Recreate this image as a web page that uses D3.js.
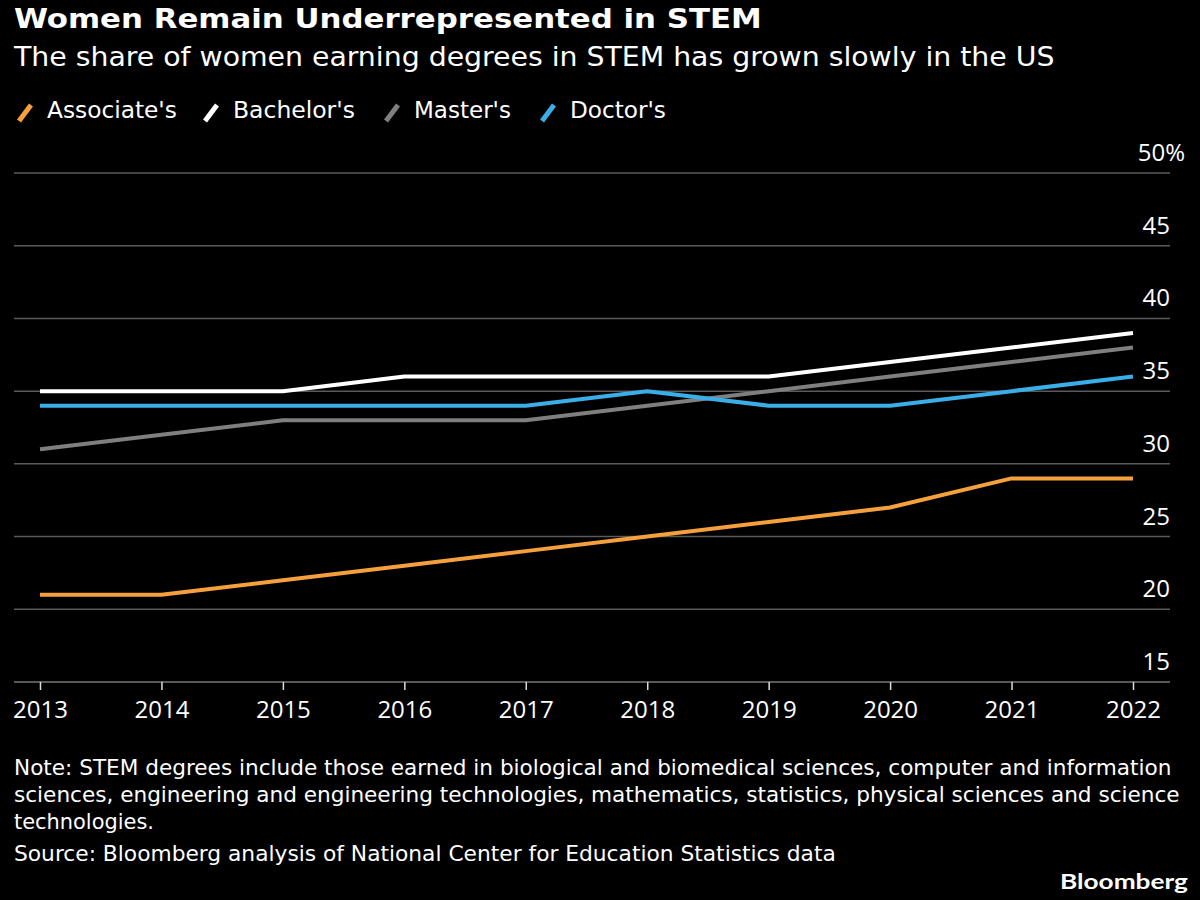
<!DOCTYPE html>
<meta charset="utf-8">
<title>Women Remain Underrepresented in STEM</title>
<style>
body { margin: 0; background: #000; }
svg { display: block; background: #000; }
.hdr { font-family: "DejaVu Sans", sans-serif; font-stretch: condensed; fill: #fff; }
.tick-lbl { font-family: "Open Sans", "Noto Sans", sans-serif; fill: #fff; font-size: 24px; }
</style>
<body>
<svg width="1200" height="900"></svg>
<script src="https://d3js.org/d3.v7.min.js"></script>
<script>

var years = [2013, 2014, 2015, 2016, 2017, 2018, 2019, 2020, 2021, 2022];
var associates = [21, 21, 22, 23, 24, 25, 26, 27, 29, 29];
var bachelors  = [35, 35, 35, 36, 36, 36, 36, 37, 38, 39];
var masters    = [31, 32, 33, 33, 33, 34, 35, 36, 37, 38];
var doctors    = [34, 34, 34, 34, 34, 35, 34, 34, 35, 36];
var yTicks = [15, 20, 25, 30, 35, 40, 45, 50];

var series = [
  {name: "Associate's", values: associates, color: "#f5a03c"},
  {name: "Bachelor's", values: bachelors, color: "#ffffff"},
  {name: "Master's", values: masters, color: "#7f7f7f"},
  {name: "Doctor's", values: doctors, color: "#3aaee8"}
];

var svg = d3.select("svg");

var x = d3.scaleLinear().domain([2013, 2022]).range([40, 1133]);
var y = d3.scaleLinear().domain([15, 50]).range([682, 173]);

// the source chart's type is narrower than anything installed, so squeeze it to width
function fit(sel, w) {
  sel.each(function() {
    var t = d3.select(this), x0 = +t.attr("x"), y0 = +t.attr("y");
    var k = w / this.getComputedTextLength();
    t.attr("transform", "translate(" + x0 + "," + y0 + ") scale(" + k + ",1) translate(" + (-x0) + "," + (-y0) + ")");
  });
}

// title block
svg.append("text").attr("class", "hdr").attr("x", 14).attr("y", 28)
   .style("font-size", "26px").style("font-weight", "bold")
   .text("Women Remain Underrepresented in STEM")
   .call(fit, 748);
svg.append("text").attr("class", "hdr").attr("x", 14).attr("y", 66)
   .style("font-size", "27px")
   .text("The share of women earning degrees in STEM has grown slowly in the US")
   .call(fit, 1041);

// legend
var lx = [17, 203, 384, 540];
var lw = [130, 122, 97, 96];
var leg = svg.selectAll(".leg").data(series).enter().append("g")
    .attr("class", "leg")
    .attr("transform", function(d, i) { return "translate(" + lx[i] + ",0)"; });
leg.append("line")
    .attr("x1", 2).attr("y1", 121).attr("x2", 14).attr("y2", 105)
    .attr("stroke", function(d) { return d.color; })
    .attr("stroke-width", 5);
leg.append("text").attr("class", "hdr")
    .attr("x", 30).attr("y", 118)
    .style("font-size", "23px")
    .text(function(d) { return d.name; })
    .each(function(d, i) { d3.select(this).call(fit, lw[i]); });

// gridlines + y labels
var grid = svg.append("g");
grid.selectAll("line").data(yTicks.filter(function(t) { return t > 15; })).enter().append("line")
    .attr("x1", 14).attr("x2", 1170)
    .attr("y1", function(d) { return y(d); })
    .attr("y2", function(d) { return y(d); })
    .attr("stroke", "#5a5a5a").attr("stroke-width", 1.5);
grid.selectAll("text").data(yTicks).enter().append("text")
    .attr("class", "tick-lbl")
    .attr("x", function(d) { return d === 50 ? 1185 : 1170; })
    .attr("y", function(d) { return y(d) - 12; })
    .attr("text-anchor", "end")
    .text(function(d) { return d === 50 ? d + "%" : d; });

// x axis
var xAxis = svg.append("g").attr("transform", "translate(0,682)")
    .call(d3.axisBottom(x).tickValues(years).tickFormat(d3.format("d")).tickSize(8).tickPadding(11));
xAxis.select(".domain").attr("d", "M14,0H1170").attr("stroke", "#777").attr("stroke-width", 1.5);
xAxis.selectAll(".tick line").attr("stroke", "#ddd").attr("stroke-width", 1.5);
xAxis.selectAll(".tick text").attr("class", "tick-lbl").attr("fill", "#fff").style("font-size", "24px");

// lines
var line = d3.line()
    .x(function(d, i) { return x(years[i]); })
    .y(function(d) { return y(d); });

svg.selectAll(".series").data(series).enter().append("path")
    .attr("class", "series")
    .attr("fill", "none")
    .attr("stroke", function(d) { return d.color; })
    .attr("stroke-width", 4)
    .attr("stroke-linejoin", "round")
    .attr("d", function(d) { return line(d.values); });

// notes
var notes = [
  "Note: STEM degrees include those earned in biological and biomedical sciences, computer and information",
  "sciences, engineering and engineering technologies, mathematics, statistics, physical sciences and science",
  "technologies.",
  "Source: Bloomberg analysis of National Center for Education Statistics data"
];
var noteW = [1158, 1166, 140, 822];
svg.selectAll(".note").data(notes).enter().append("text")
    .attr("class", "hdr note")
    .attr("x", 14)
    .attr("y", function(d, i) { return [775, 802, 829, 861][i]; })
    .style("font-size", "22px")
    .text(function(d) { return d; })
    .each(function(d, i) { d3.select(this).call(fit, noteW[i]); });

svg.append("text")
    .attr("x", 1060).attr("y", 889)
    .style("font-family", "Lato, 'Open Sans', sans-serif")
    .style("font-weight", "bold")
    .style("font-size", "21px")
    .attr("fill", "#fff")
    .text("Bloomberg")
    .call(fit, 128);

</script>
</body>
